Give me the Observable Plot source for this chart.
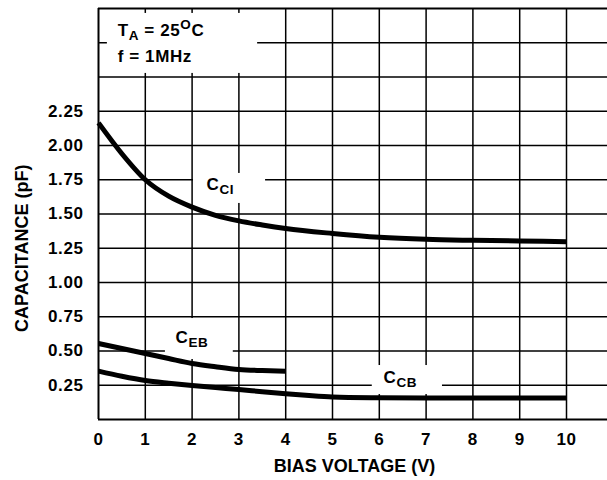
<!DOCTYPE html>
<html><head><meta charset="utf-8">
<script src="https://cdn.jsdelivr.net/npm/d3@7"></script>
<script src="https://cdn.jsdelivr.net/npm/@observablehq/plot@0.6"></script>
<style>body{margin:0;background:#fff}</style>
</head><body><div id="chart"></div>
<script>
// ---- data ----
const ciVoltage = [0, 0.5, 1, 1.5, 2, 2.5, 3, 3.5, 4, 5, 6, 7, 8, 9, 10];
const cci       = [2.165, 1.94, 1.75, 1.63, 1.55, 1.49, 1.45, 1.42, 1.394, 1.358, 1.33, 1.315, 1.308, 1.303, 1.298];
const ebVoltage = [0, 0.5, 1, 1.5, 2, 2.5, 3, 3.5, 4];
const ceb       = [0.555, 0.518, 0.482, 0.445, 0.409, 0.385, 0.365, 0.357, 0.352];
const cbVoltage = [0, 0.5, 1, 1.5, 2, 2.5, 3, 3.5, 4, 4.5, 5, 6, 7, 8, 9, 10];
const ccb       = [0.353, 0.316, 0.285, 0.265, 0.248, 0.233, 0.219, 0.203, 0.188, 0.175, 0.165, 0.159, 0.157, 0.157, 0.157, 0.157];
const seriesNames = ["CCI", "CEB", "CCB"];

const xTicks = [0, 1, 2, 3, 4, 5, 6, 7, 8, 9, 10];
const yTicks = [0.25, 0.5, 0.75, 1.0, 1.25, 1.5, 1.75, 2.0, 2.25];
const xGrid = [1, 2, 3, 4, 5, 6, 7, 8, 9, 10];
const yGrid = [0.25, 0.5, 0.75, 1.0, 1.25, 1.5, 1.75, 2.0, 2.25, 2.5, 2.75];
const xLabel = "BIAS VOLTAGE (V)";
const yLabel = "CAPACITANCE (pF)";

// annotation texts and their white backing boxes (data units)
const labels = [
  {x: 0.41, y: 2.796, text: "T_{A} = 25^{O}C"},
  {x: 0.41, y: 2.606, text: "f = 1MHz"},
  {x: 2.31, y: 1.672, text: "C_{CI}"},
  {x: 1.645, y: 0.562, text: "C_{EB}"},
  {x: 6.09, y: 0.270, text: "C_{CB}"}
];
const boxes = [
  {x1: 0.19, x2: 3.40, y1: 2.526, y2: 2.964},
  {x1: 2.03, x2: 3.57, y1: 1.577, y2: 1.796},
  {x1: 1.43, x2: 2.88, y1: 0.438, y2: 0.737},
  {x1: 5.85, x2: 7.35, y1: 0.182, y2: 0.394}
];

const table = [
  ...ciVoltage.map((v, i) => ({series: seriesNames[0], v, c: cci[i]})),
  ...ebVoltage.map((v, i) => ({series: seriesNames[1], v, c: ceb[i]})),
  ...cbVoltage.map((v, i) => ({series: seriesNames[2], v, c: ccb[i]}))
];

const plot = Plot.plot({
  width: 607, height: 480,
  marginLeft: 98, marginRight: 0, marginTop: 8, marginBottom: 61,
  x: {domain: [0, 10.876]},
  y: {domain: [0, 3]},
  style: {fontFamily: "'Liberation Sans', Arial, sans-serif", fontWeight: "bold", fontSize: "17px", color: "#000", background: "#fff"},
  marks: [
    Plot.ruleX(xGrid, {stroke: "#000", strokeWidth: 1.5}),
    Plot.ruleY(yGrid, {stroke: "#000", strokeWidth: 1.5}),
    Plot.rect(boxes, {x1: "x1", x2: "x2", y1: "y1", y2: "y2", fill: "#fff"}),
    Plot.ruleX([0], {stroke: "#000", strokeWidth: 2}),
    Plot.ruleY([0, 3], {stroke: "#000", strokeWidth: 2}),
    Plot.line(table, {x: "v", y: "c", z: "series", curve: "monotone-x", stroke: "#000", strokeWidth: 5, strokeLinecap: "butt", strokeLinejoin: "round"}),
    Plot.axisX({ticks: xTicks, tickSize: 0, tickPadding: 13, tickFormat: d => String(d), label: null, fontSize: 17}),
    Plot.axisY({ticks: yTicks, tickSize: 0, tickPadding: 15, tickFormat: d3.format(".2f"), label: null, fontSize: 17}),
    Plot.text(labels, {x: "x", y: "y", text: "text", textAnchor: "start", lineAnchor: "bottom", fontSize: 17, fill: "#000"}),
    Plot.text([xLabel], {frameAnchor: "bottom", textAnchor: "middle", dx: 1.5, dy: 52, lineAnchor: "bottom", fontSize: 18, fill: "#000"}),
    Plot.text([yLabel], {frameAnchor: "left", y: () => 1.25, textAnchor: "middle", lineAnchor: "middle", dx: -76, rotate: -90, fontSize: 18, fill: "#000"})
  ]
});

// rich text: subscripts _{..} and superscripts ^{..}
const NS = "http://www.w3.org/2000/svg";
plot.querySelectorAll("text").forEach(el => {
  const s = el.textContent;
  if (!/[_^]\{/.test(s)) {
    if (labels.some(l => l.text === s)) el.setAttribute("letter-spacing", "0.6");
    return;
  }
  el.setAttribute("letter-spacing", "0.6");
  el.textContent = "";
  const re = /([_^])\{([^}]*)\}|([^_^]+)/g;
  let m, cur = 0;
  while ((m = re.exec(s))) {
    const ts = document.createElementNS(NS, "tspan");
    let target = 0, t;
    if (m[1]) { target = m[1] === "_" ? 4 : -7; t = m[2]; ts.setAttribute("font-size", 13.5); }
    else t = m[3];
    ts.setAttribute("dy", target - cur);
    cur = target;
    ts.textContent = t;
    el.appendChild(ts);
  }
});
plot.querySelectorAll('g[aria-label="x-axis tick label"] text, g[aria-label="y-axis tick label"] text')
  .forEach(el => el.setAttribute("letter-spacing", "0.6"));

document.getElementById("chart").appendChild(plot);
</script>
</body></html>
